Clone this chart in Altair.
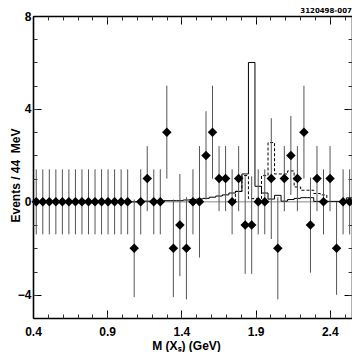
import altair as alt
import pandas as pd

# ---------------- data ----------------
BIN_LO = 0.4          # GeV, left edge of first bin
BIN_W = 0.044         # GeV, 44 MeV bins
N_BINS = 49

# background-subtracted yields (diamonds) per bin
POINT_VALUES = [0, 0, 0, 0, 0, 0, 0, 0, 0, 0,
                0, 0, 0, 0, 0, -2, 0, 1, 0, 0,
                3, -2, -1, -2, 0, 0, 2, 3, 1, 1,
                0, 1, -1, -1, 0, 0, 1, -2, 1, 2,
                1, 3, -1, 1, 0, 1, -2, 0, 0]
POINT_ERRORS = [1.4, 1.4, 1.4, 1.4, 1.4, 1.4, 1.4, 1.4, 1.4, 1.4,
                1.4, 1.4, 1.4, 1.4, 1.4, 2.1, 1.4, 1.4, 1.4, 1.4,
                2.0, 2.1, 2.2, 2.2, 1.4, 2.4, 1.9, 2.0, 1.4, 1.4,
                1.4, 1.4, 2.1, 2.1, 1.4, 1.4, 2.6, 2.2, 1.4, 1.7,
                1.4, 2.0, 2.05, 1.4, 1.4, 1.4, 2.0, 1.4, 1.4]

# solid histogram (per bin)
SOLID_HIST = [0, 0, 0, 0, 0, 0, 0, 0, 0, 0,
              0, 0, 0, 0, 0, 0, 0.03, 0.03, 0.03, 0.03,
              0.05, 0.05, 0.05, 0.08, 0.10, 0.12, 0.15, 0.20, 0.25, 0.30,
              0.38, 0.45, 1.20, 6.00, 0.67, 0.38, 0.12, 0.28, 0.03, 0.10,
              0.15, 0.18, 0.18, 0.02, 0.02, 0.02, 0.02, 0.02, 0.17]

# dashed histogram (bins 31 .. 44)
DASHED_FIRST_BIN = 31
DASHED_HIST = [0.45, 1.13, 0.14, 0.14, 1.13, 2.55, 1.20, 1.20, 1.33, 0.64,
               0.50, 0.50, 0.36, 0.30]

X_MAJOR = [0.4, 0.9, 1.4, 1.9, 2.4]
X_MINOR = [0.4, 0.5, 0.6, 0.7, 0.8, 0.9, 1.0, 1.1, 1.2, 1.3, 1.4, 1.5,
           1.6, 1.7, 1.8, 1.9, 2.0, 2.1, 2.2, 2.3, 2.4, 2.5]
Y_MAJOR = [-4, 0, 4, 8]
Y_MINOR = [-4, -3, -2, -1, 0, 1, 2, 3, 4, 5, 6, 7]

X_DOMAIN = [0.4, 2.55]
Y_DOMAIN = [-5, 8]

# ---------------- tables ----------------
centers = [BIN_LO + BIN_W * (i + 0.5) for i in range(N_BINS)]
edges = [BIN_LO + BIN_W * i for i in range(N_BINS + 1)]

pts = pd.DataFrame({
    "x": centers,
    "v": POINT_VALUES,
    "lo": [v - e for v, e in zip(POINT_VALUES, POINT_ERRORS)],
    "hi": [v + e for v, e in zip(POINT_VALUES, POINT_ERRORS)],
})

solid_df = pd.DataFrame({
    "x": edges,
    "y": SOLID_HIST + [SOLID_HIST[-1]],
    "o": list(range(N_BINS + 1)),
})

d_edges = edges[DASHED_FIRST_BIN:DASHED_FIRST_BIN + len(DASHED_HIST) + 1]
dashed_df = pd.DataFrame({
    "x": [d_edges[0]] + d_edges,
    "y": [0] + DASHED_HIST + [0],
    "o": list(range(len(d_edges) + 1)),
})

zero_df = pd.DataFrame({"y": [0]})

# ---------------- styling ----------------
FONT = "Liberation Sans"
xs = alt.Scale(domain=X_DOMAIN, nice=False, zero=False)
ys = alt.Scale(domain=Y_DOMAIN, nice=False, zero=False)

def major_axis(orient, values, labels, **kw):
    return alt.Axis(orient=orient, values=values, labels=labels,
                    tickSize={"expr": "-8"}, tickColor="black", tickWidth=1,
                    domain=True, domainColor="black", domainWidth=1.6,
                    grid=False, labelFlush=False, labelOverlap=False,
                    labelFont=FONT, labelFontSize=12, labelFontWeight="bold",
                    labelColor="black", **kw)

def minor_axis(orient, values):
    return alt.Axis(orient=orient, values=values, labels=False,
                    tickSize={"expr": "-4"}, tickColor="#333", tickWidth=1,
                    domain=False, grid=False, title=None)

ax_xb = major_axis("bottom", X_MAJOR, True, format=".1f", labelPadding=16,
                   title="M (Xₛ) (GeV)", titleFont=FONT, titleFontSize=12,
                   titleFontWeight="bold", titleColor="black",
                   titleX=153, titleY=22, titleAlign="center",
                   titleBaseline="top")
ax_yl = major_axis("left", Y_MAJOR, True, format="d", labelPadding=10,
                   title="Events / 44\u00a0 MeV", titleFont=FONT,
                   titleFontSize=12, titleFontWeight="bold",
                   titleColor="black", titleX=-18, titleY=159,
                   titleAngle=270, titleAlign="center",
                   titleBaseline="middle")
ax_xt = major_axis("top", X_MAJOR, False, title=None)
ax_yr = major_axis("right", Y_MAJOR, False, title=None)

zero = alt.Chart(zero_df).mark_rule(color="#888888", strokeWidth=1).encode(
    y=alt.Y("y:Q", scale=ys, axis=None)
)

solid = alt.Chart(solid_df).mark_line(
    interpolate="step-after", color="black", strokeWidth=1
).encode(
    x=alt.X("x:Q", scale=xs, axis=ax_xt),
    y=alt.Y("y:Q", scale=ys, axis=ax_yr),
    order="o:Q",
)

dashed = alt.Chart(dashed_df).mark_line(
    interpolate="step-after", color="black", strokeWidth=1, strokeDash=[3, 2]
).encode(
    x=alt.X("x:Q", scale=xs, axis=minor_axis("top", X_MINOR)),
    y=alt.Y("y:Q", scale=ys, axis=minor_axis("right", Y_MINOR)),
    order="o:Q",
)

bars = alt.Chart(pts).mark_rule(color="#555555", strokeWidth=1).encode(
    x=alt.X("x:Q", scale=xs, axis=ax_xb),
    y=alt.Y("lo:Q", scale=ys, axis=ax_yl),
    y2="hi:Q",
)

diam = alt.Chart(pts).mark_point(
    shape="diamond", filled=True, color="black", size=90, opacity=1
).encode(
    x=alt.X("x:Q", scale=xs, axis=minor_axis("bottom", X_MINOR)),
    y=alt.Y("v:Q", scale=ys, axis=minor_axis("left", Y_MINOR)),
)

chart = alt.layer(zero, solid, dashed, bars, diam).resolve_axis(
    x="independent", y="independent"
).properties(
    width=319,
    height=302,
    autosize=alt.AutoSizeParams(type="none"),
    padding={"left": 25, "top": 8, "right": 0, "bottom": 34},
    title=alt.TitleParams("3120498-007", anchor="end", fontSize=7,
                          fontWeight="bold", font="DejaVu Sans", offset=0,
                          baseline="alphabetic", dx=-3, dy=9.5,
                          color="black"),
).configure_view(stroke=None).configure(font=FONT)

chart.save("out.html", embed_options={"renderer": "svg", "actions": False})
